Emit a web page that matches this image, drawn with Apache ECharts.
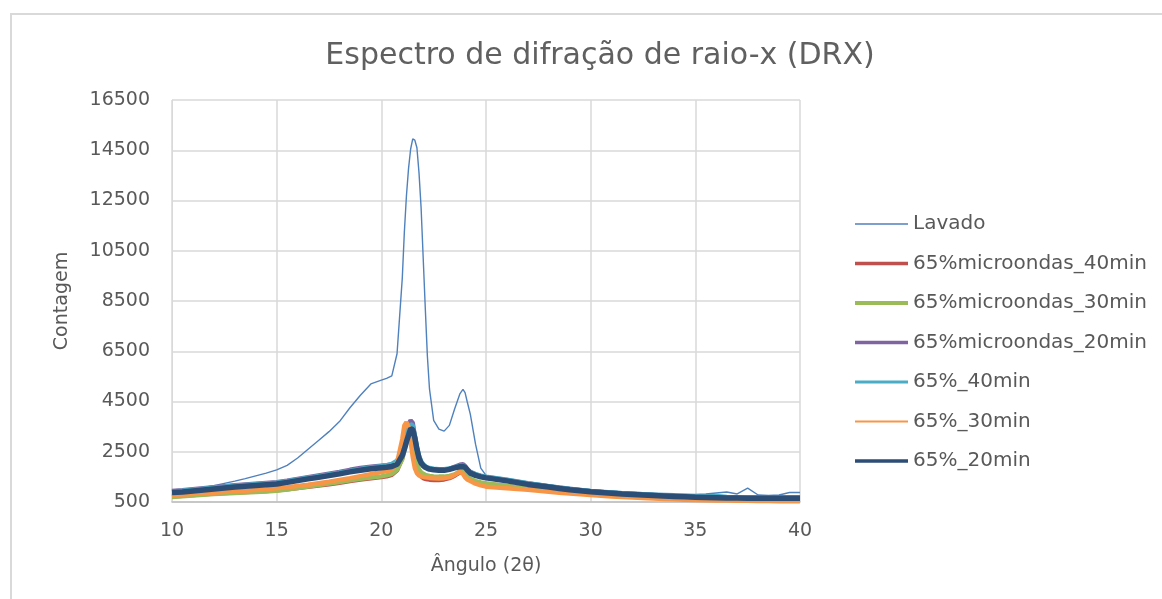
<!DOCTYPE html>
<html>
<head>
<meta charset="utf-8">
<script src="https://cdn.jsdelivr.net/npm/echarts@6/dist/echarts.min.js"></script>
<style>html,body{margin:0;padding:0;background:#fff;}#c{width:1162px;height:599px;}</style>
</head>
<body>
<div id="c"></div>
<script>
// 2θ angles (shared x values)
const angles = [
  10,10.5,11,11.5,12,12.5,13,13.5,14,14.5,15,15.5,16,16.5,17,17.5,18,18.5,19,19.5,20,
  20.25,20.5,20.75,21,21.1,21.2,21.3,21.4,21.5,21.6,21.7,21.8,21.9,22,22.1,22.2,22.3,22.5,22.75,23,23.25,23.5,23.75,23.9,24,24.1,24.25,24.5,24.75,25,
  25.5,26,26.5,27,27.5,28,28.5,29,29.5,30,30.5,31,31.5,32,32.5,33,33.5,34,34.5,35,35.5,36,36.5,37,37.5,38,38.5,39,39.5,40
];
const seriesNames = ['Lavado','65%microondas_40min','65%microondas_30min','65%microondas_20min','65%_40min','65%_30min','65%_20min'];
const lavado = [
  950,980,1020,1080,1150,1240,1330,1430,1540,1650,1780,1960,2250,2600,2950,3300,3700,4250,4750,5200,5350,
  5420,5520,6400,9400,11250,12700,13780,14550,14950,14900,14600,13600,12200,10200,8200,6300,5000,3750,3400,3320,3550,4200,4800,4980,4850,4500,4000,2800,1850,1560,
  1480,1420,1360,1300,1250,1190,1140,1090,1040,990,960,935,910,890,870,850,840,830,815,800,820,860,900,820,1050,780,760,780,880,880
];
const mw40 = [
  720,750,780,810,840,860,880,900,920,940,970,1010,1060,1110,1160,1210,1270,1330,1390,1440,1490,
  1520,1580,1760,2250,2650,3050,3350,3450,3150,2500,1950,1650,1520,1450,1420,1400,1390,1380,1380,1400,1450,1550,1680,1650,1560,1450,1380,1310,1260,1230,
  1180,1130,1080,1040,1000,960,920,880,850,820,790,770,750,730,710,690,680,670,660,640,630,620,615,610,605,600,595,590,585,585
];
const mw30 = [
  700,730,760,790,820,840,860,880,900,920,950,1000,1060,1120,1180,1240,1300,1360,1420,1470,1520,
  1560,1620,1780,2200,2550,2900,3150,3250,3050,2500,2050,1800,1680,1620,1580,1560,1540,1520,1510,1510,1540,1600,1720,1740,1650,1520,1420,1330,1280,1240,
  1190,1140,1090,1050,1010,970,930,890,860,830,800,780,760,740,720,700,690,680,670,650,640,630,620,615,610,600,600,595,590,590
];
const mw20 = [
  940,970,1010,1050,1090,1130,1170,1200,1230,1260,1290,1350,1420,1490,1560,1630,1700,1780,1850,1900,1940,
  1960,1990,2100,2550,2900,3250,3600,3750,3650,3100,2600,2250,2050,1950,1890,1850,1820,1790,1770,1780,1820,1900,1980,2000,1930,1820,1700,1600,1540,1500,
  1440,1380,1310,1240,1180,1120,1060,1010,970,930,900,870,840,820,800,780,760,740,730,710,700,690,680,680,670,670,670,665,665,665
];
const p40 = [
  920,950,990,1030,1070,1110,1150,1180,1210,1240,1270,1330,1400,1470,1530,1600,1670,1740,1810,1870,1920,
  1960,2020,2150,2500,2800,3150,3450,3600,3550,3150,2700,2350,2120,2000,1930,1880,1850,1820,1800,1800,1830,1890,1940,1950,1900,1800,1690,1610,1550,1510,
  1450,1390,1320,1250,1190,1130,1070,1020,980,940,910,880,850,830,810,790,770,750,740,720,720,740,700,690,690,680,680,680,690,690
];
const p30 = [
  760,790,820,850,870,900,930,950,980,1010,1050,1090,1140,1190,1250,1310,1380,1450,1530,1610,1690,
  1720,1780,2050,3000,3550,3680,3480,2900,2300,1850,1650,1560,1520,1500,1480,1470,1460,1450,1440,1450,1480,1580,1700,1620,1480,1400,1340,1230,1160,1110,
  1080,1050,1020,990,950,910,870,840,810,780,750,720,700,680,660,640,620,605,590,580,570,560,555,550,545,540,535,530,530,525
];
const p20 = [
  880,900,940,980,1020,1060,1100,1130,1160,1190,1220,1280,1350,1420,1480,1550,1620,1700,1760,1820,1860,
  1880,1910,2000,2350,2600,2900,3150,3420,3380,3050,2600,2250,2050,1950,1880,1840,1810,1780,1760,1760,1800,1860,1900,1910,1880,1780,1650,1560,1500,1460,
  1400,1340,1270,1200,1150,1100,1040,990,950,910,880,850,820,800,780,760,740,720,710,690,680,670,660,660,650,650,650,650,650,650
];
const yTicks = {min: 500, max: 16500, interval: 2000};
const xTicks = {min: 10, max: 40, interval: 5};

const values = [lavado, mw40, mw30, mw20, p40, p30, p20];
const colors = ['#4F81BD','#C0504D','#9BBB59','#8064A2','#4BACC6','#F79646','#2C4D75'];
const widths = [1.4, 4.5, 4.5, 4.5, 4.5, 4.5, 5.5];
const legendThick = [1.5, 3.5, 4, 3.5, 3, 2, 3.5];

const FONT = 'DejaVu Sans';
const TXT = '#595959';

const chart = echarts.init(document.getElementById('c'), null, {renderer: 'canvas'});
chart.setOption({
  animation: false,
  backgroundColor: '#fff',
  textStyle: {fontFamily: FONT},
  graphic: [{
    type: 'rect', shape: {x: 11, y: 14, width: 1400, height: 800},
    style: {fill: 'none', stroke: '#d9d9d9', lineWidth: 2}, silent: true
  }],
  title: {
    text: 'Espectro de difração de raio-x (DRX)',
    left: 595, top: 36, textAlign: 'center',
    textStyle: {fontFamily: FONT, fontSize: 30, fontWeight: 'normal', color: '#606060'}
  },
  grid: {left: 172, right: 362, top: 100, bottom: 97, containLabel: false},
  legend: {
    orient: 'vertical', left: 850, top: 209,
    itemWidth: 53, itemHeight: 14, itemGap: 19.5,
    symbolKeepAspect: true,
    textStyle: {fontFamily: FONT, fontSize: 20, color: TXT, lineHeight: 20},
    data: seriesNames.map((n, i) => ({
      name: n,
      icon: 'path://M0,0H53V' + legendThick[i] + 'H0Z'
    }))
  },
  xAxis: {
    type: 'value', min: xTicks.min, max: xTicks.max, interval: xTicks.interval,
    name: 'Ângulo (2θ)', nameLocation: 'middle', nameGap: 55,
    nameTextStyle: {fontFamily: FONT, fontSize: 19, color: TXT},
    axisLine: {show: true, lineStyle: {color: '#bfbfbf', width: 1.5}},
    axisTick: {show: false},
    axisLabel: {fontFamily: FONT, fontSize: 19, color: TXT, margin: 20},
    splitLine: {show: true, lineStyle: {color: '#d9d9d9', width: 1.5}}
  },
  yAxis: {
    type: 'value', min: yTicks.min, max: yTicks.max, interval: yTicks.interval,
    name: 'Contagem', nameLocation: 'middle', nameGap: 100, nameRotate: 90,
    nameTextStyle: {fontFamily: FONT, fontSize: 19, color: TXT},
    axisLine: {show: true, lineStyle: {color: '#d9d9d9', width: 1}},
    axisTick: {show: false},
    axisLabel: {fontFamily: FONT, fontSize: 19, color: TXT, margin: 22, formatter: v => String(v)},
    splitLine: {show: true, lineStyle: {color: '#d9d9d9', width: 1.5}}
  },
  series: seriesNames.map((n, i) => ({
    name: n, type: 'line', symbol: 'none', showSymbol: false,
    data: angles.map((a, j) => [a, values[i][j]]),
    color: colors[i],
    lineStyle: {color: colors[i], width: widths[i]},
    z: 2 + i
  }))
});
</script>
</body>
</html>
